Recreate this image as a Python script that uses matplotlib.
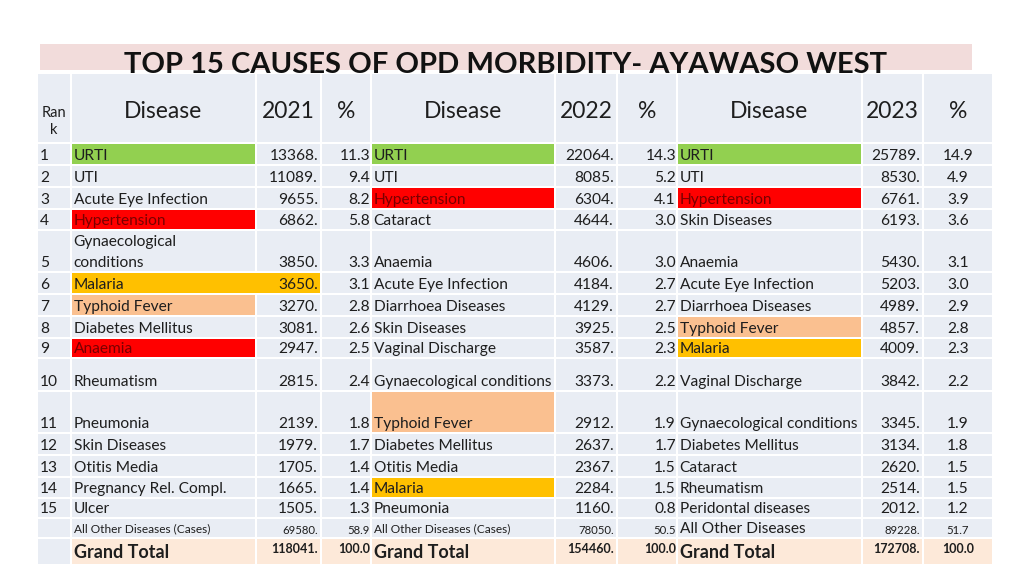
import matplotlib

matplotlib.use("Agg")

import matplotlib.pyplot as plt
from matplotlib.patches import Rectangle

plt.rcParams["font.family"] = ["Lato", "DejaVu Sans"]

# ---- data ----
title = "TOP 15 CAUSES OF OPD MORBIDITY- AYAWASO WEST"
years = ["2021", "2022", "2023"]
ranks = ["1", "2", "3", "4", "5", "6", "7", "8", "9", "10", "11", "12", "13", "14", "15"]

diseases_2021 = ["URTI", "UTI", "Acute Eye Infection", "Hypertension",
                 "Gynaecological\nconditions", "Malaria", "Typhoid Fever",
                 "Diabetes Mellitus", "Anaemia", "Rheumatism", "Pneumonia",
                 "Skin Diseases", "Otitis Media", "Pregnancy Rel. Compl.", "Ulcer"]
cases_2021 = [13368, 11089, 9655, 6862, 3850, 3650, 3270, 3081, 2947, 2815,
              2139, 1979, 1705, 1665, 1505]
pct_2021 = [11.3, 9.4, 8.2, 5.8, 3.3, 3.1, 2.8, 2.6, 2.5, 2.4, 1.8, 1.7, 1.4, 1.4, 1.3]

diseases_2022 = ["URTI", "UTI", "Hypertension", "Cataract", "Anaemia",
                 "Acute Eye Infection", "Diarrhoea Diseases", "Skin Diseases",
                 "Vaginal Discharge", "Gynaecological conditions", "Typhoid Fever",
                 "Diabetes Mellitus", "Otitis Media", "Malaria", "Pneumonia"]
cases_2022 = [22064, 8085, 6304, 4644, 4606, 4184, 4129, 3925, 3587, 3373,
              2912, 2637, 2367, 2284, 1160]
pct_2022 = [14.3, 5.2, 4.1, 3.0, 3.0, 2.7, 2.7, 2.5, 2.3, 2.2, 1.9, 1.7, 1.5, 1.5, 0.8]

diseases_2023 = ["URTI", "UTI", "Hypertension", "Skin Diseases", "Anaemia",
                 "Acute Eye Infection", "Diarrhoea Diseases", "Typhoid Fever",
                 "Malaria", "Vaginal Discharge", "Gynaecological conditions",
                 "Diabetes Mellitus", "Cataract", "Rheumatism", "Peridontal diseases"]
cases_2023 = [25789, 8530, 6761, 6193, 5430, 5203, 4989, 4857, 4009, 3842,
              3345, 3134, 2620, 2514, 2012]
pct_2023 = [14.9, 4.9, 3.9, 3.6, 3.1, 3.0, 2.9, 2.8, 2.3, 2.2, 1.9, 1.8, 1.5, 1.5, 1.2]

other_labels = ["All Other Diseases (Cases)", "All Other Diseases (Cases)", "All Other Diseases"]
other_cases = [69580, 78050, 89228]
other_pct = [58.9, 50.5, 51.7]
grand_totals = [118041, 154460, 172708]
total_pct = [100.0, 100.0, 100.0]

# ---- styling ----
GREEN = "#92d050"
RED = "#ff0000"
ORANGE = "#ffc000"
PEACH = "#fac090"
CELL = "#e9edf4"
TOTAL_BG = "#fde9d9"
BAND = "#f2dcdb"
INK = "#1e1e1e"

highlights = [
    {"URTI": GREEN, "Hypertension": RED, "Malaria": ORANGE,
     "Typhoid Fever": PEACH, "Anaemia": RED},
    {"URTI": GREEN, "Hypertension": RED, "Malaria": ORANGE, "Typhoid Fever": PEACH},
    {"URTI": GREEN, "Hypertension": RED, "Malaria": ORANGE, "Typhoid Fever": PEACH},
]

# layout in pixels (figure is 1024 x 570)
col_edges = [37, 71, 256, 321, 371, 555, 617, 677, 862, 923, 993]
row_edges = [73, 143, 165, 187, 209, 230, 272, 294, 316, 338, 358, 391,
             433, 455, 477, 498, 518, 538, 565]
BODY = 11.2
HEAD = 16.5

fig = plt.figure(figsize=(10.24, 5.7), dpi=100)
ax = fig.add_axes([0, 0, 1, 1])
ax.set_xlim(0, 1024)
ax.set_ylim(570, 0)
ax.axis("off")


def cell(c0, c1, r, color):
    x0, x1 = col_edges[c0], col_edges[c1]
    y0, y1 = row_edges[r], row_edges[r + 1]
    ax.add_patch(Rectangle((x0 + 1, y0 + 1), x1 - x0 - 2, y1 - y0 - 2,
                           facecolor=color, edgecolor="none", zorder=1))


def put(txt, c, r, align="left", size=BODY, weight="normal", color=INK, dy=9.0, pad=3):
    x0, x1 = col_edges[c], col_edges[c + 1]
    bottom = row_edges[r + 1]
    if align == "left":
        x = x0 + pad
    elif align == "right":
        x = x1 - pad
    else:
        x = (x0 + x1) / 2
    lines = txt.split("\n")
    for k, line in enumerate(lines):
        y = bottom - dy - 21 * (len(lines) - 1 - k)
        ax.text(x, y, line, ha=align, va="center", fontsize=size,
                fontweight=weight, color=color, zorder=3)


# title band
ax.add_patch(Rectangle((40, 44), 932, 26, facecolor=BAND, edgecolor="none", zorder=0))
ax.text(506, 65, title, ha="center", va="center", fontsize=21,
        fontweight="bold", color="#111111", zorder=5)

n_rows = len(row_edges) - 1
# base cells
for r in range(n_rows):
    for c in range(len(col_edges) - 1):
        bg = TOTAL_BG if (r == n_rows - 1 and c > 0) else CELL
        cell(c, c + 1, r, bg)

# header
ax.text(54, 113, "Ran", ha="center", va="center", fontsize=10.5, color=INK, zorder=3)
ax.text(54, 130, "k", ha="center", va="center", fontsize=10.5, color=INK, zorder=3)
for y, year in enumerate(years):
    base = 1 + 3 * y
    for c, lab in zip((base, base + 1, base + 2), ("Disease", year, "%")):
        x = (col_edges[c] + col_edges[c + 1]) / 2
        ax.text(x, 111, lab, ha="center", va="center", fontsize=HEAD, color=INK, zorder=3)

for i, rk in enumerate(ranks):
    put(rk, 0, i + 1)

all_diseases = [diseases_2021, diseases_2022, diseases_2023]
all_cases = [cases_2021, cases_2022, cases_2023]
all_pct = [pct_2021, pct_2022, pct_2023]

for y in range(3):
    base = 1 + 3 * y
    pct_align = "center" if y == 2 else "right"
    for i, name in enumerate(all_diseases[y]):
        r = i + 1
        key = name.replace("\n", " ")
        color = highlights[y].get(key)
        txt_color = INK
        if color is not None:
            # 2021 malaria band runs over the case count too
            span = 2 if (y == 0 and key == "Malaria") else 1
            cell(base, base + span, r, color)
            if color == RED:
                txt_color = "#7a0000"
        put(name, base, r, color=txt_color, pad=2.5)
        put(f"{all_cases[y][i]}.", base + 1, r, align="right", pad=3)
        put(f"{all_pct[y][i]:.1f}", base + 2, r, align=pct_align, pad=1)

    # all other diseases row
    r = 16
    put(other_labels[y], base, r, size=BODY if y == 2 else 8.6, pad=2.5)
    put(f"{other_cases[y]}.", base + 1, r, align="right", size=8.2, dy=8)
    put(f"{other_pct[y]:.1f}", base + 2, r, align=pct_align, size=8.2, dy=8, pad=1)

    # grand total row
    r = 17
    put("Grand Total", base, r, size=13, weight="bold", dy=12, pad=2.5)
    put(f"{grand_totals[y]}.", base + 1, r, align="right", size=9, weight="bold", dy=16)
    put(f"{total_pct[y]:.1f}", base + 2, r, align=pct_align, size=9, weight="bold", dy=16, pad=1)

fig.savefig("out.png", dpi=100, facecolor="white")
